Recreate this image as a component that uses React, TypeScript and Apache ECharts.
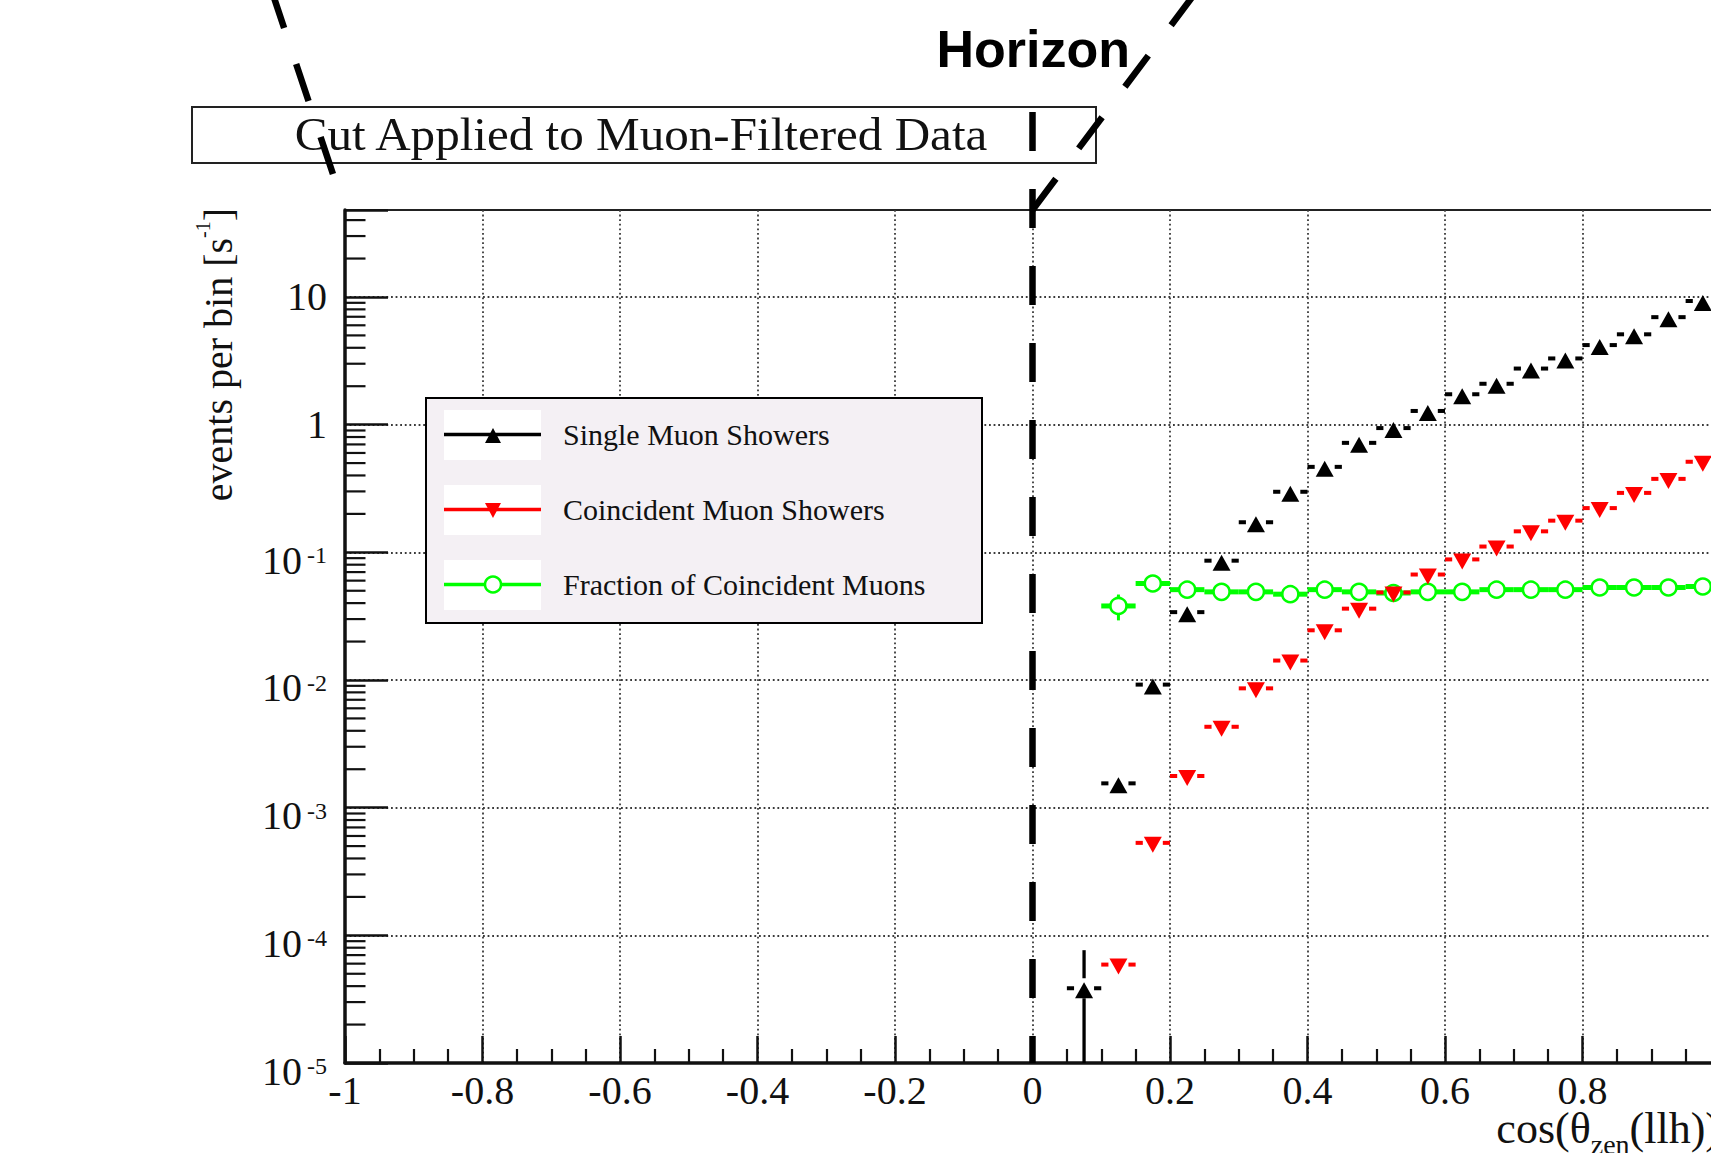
import React, { useEffect, useRef } from 'react';
import * as echarts from 'echarts';

// Bin layout of the zenith histogram (cos θ_zen, bin width 0.05)
const binWidth = 0.05;
const binCenters = [
  0.075, 0.125, 0.175, 0.225, 0.275, 0.325, 0.375, 0.425, 0.475, 0.525,
  0.575, 0.625, 0.675, 0.725, 0.775, 0.825, 0.875, 0.925, 0.975,
];

// Rates in events per bin [s^-1]
const singleMuonRate = [
  3.85e-5, 1.55e-3, 9.2e-3, 0.034, 0.086, 0.172, 0.298, 0.467, 0.72, 0.94,
  1.28, 1.73, 2.09, 2.75, 3.3, 4.2, 5.1, 6.95, 9.3,
];
const singleMuonErr = [
  3.8e-5, 0, 0, 0, 0, 0, 0, 0, 0, 0, 0, 0, 0, 0, 0, 0, 0, 0, 0,
];
const coincidentRate = [
  null, 5.9e-5, 5.3e-4, 1.77e-3, 4.3e-3, 8.6e-3, 0.0142, 0.0245, 0.0362, 0.0485,
  0.067, 0.088, 0.111, 0.146, 0.177, 0.222, 0.292, 0.376, 0.512,
];
const coincidentErr = [
  0, 0, 0, 0, 0, 0, 0, 0, 0, 0, 0, 0, 0, 0, 0, 0, 0, 0, 0,
];
const coincidentFraction = [
  null, 0.038, 0.057, 0.051, 0.049, 0.049, 0.047, 0.051, 0.049, 0.048,
  0.049, 0.049, 0.051, 0.051, 0.051, 0.053, 0.053, 0.053, 0.054,
];
const coincidentFractionErr = [
  0, 0.0087, 0, 0, 0, 0, 0, 0, 0, 0, 0, 0, 0, 0, 0, 0, 0, 0, 0,
];

const seriesNames = [
  'Single Muon Showers',
  'Coincident Muon Showers',
  'Fraction of Coincident Muons',
];
const plotTitle = 'Cut Applied to Muon-Filtered Data';
const horizonLabel = 'Horizon';
const yTitleMain = 'events per bin [s';
const yTitleSup = '-1';
const xTitleMain = 'cos(θ';
const xTitleSub = 'zen';
const xTitleTail = '(llh))';

// Axis ranges and tick layout
const xRange = [-1, 1];
const xStep = 0.2;
const yRange = [1e-5, 48];
const yMinorDecades = [1e-5, 1e-4, 1e-3, 1e-2, 1e-1, 1];
const yMinorMultipliers = [2, 3, 4, 5, 6, 7, 8, 9];
const yMinorTop = [20, 30, 40];

const SERIF = '"Liberation Serif", "Times New Roman", serif';
const SANS = '"Liberation Sans", Arial, sans-serif';
const INK = '#111';

function toPoints(ys: (number | null)[], errs?: number[]) {
  const out: number[][] = [];
  binCenters.forEach((x, i) => {
    const y = ys[i];
    if (y != null && y > 0) out.push([x, y, errs ? errs[i] : 0]);
  });
  return out;
}

// Horizontal bin-width bars (with a gap for the marker) and vertical error bars
function errorBars(color: string, gap: number, lw: number, vlw: number) {
  return (params: any, api: any) => {
    const x = api.value(0);
    const y = api.value(1);
    const e = api.value(2);
    const cs = params.coordSys;
    const c = api.coord([x, y]);
    const l = api.coord([x - binWidth / 2, y]);
    const r = api.coord([x + binWidth / 2, y]);
    const style = { stroke: color, lineWidth: lw, lineCap: 'butt' };
    const children: any[] = [];
    if (c[0] - gap > l[0]) {
      children.push({ type: 'line', shape: { x1: l[0], y1: c[1], x2: c[0] - gap, y2: c[1] }, style });
    }
    if (r[0] > c[0] + gap) {
      children.push({ type: 'line', shape: { x1: c[0] + gap, y1: c[1], x2: r[0], y2: c[1] }, style });
    }
    if (e > 0) {
      const bottomEdge = cs.y + cs.height;
      const top = api.coord([x, y + e])[1];
      const lo = y - e;
      const bottom = lo > 0 ? Math.min(api.coord([x, lo])[1], bottomEdge) : bottomEdge;
      const vstyle = { stroke: color, lineWidth: vlw, lineCap: 'butt' };
      if (c[1] - gap > top) {
        children.push({ type: 'line', shape: { x1: c[0], y1: top, x2: c[0], y2: c[1] - gap }, style: vstyle });
      }
      if (bottom > c[1] + gap) {
        children.push({ type: 'line', shape: { x1: c[0], y1: c[1] + gap, x2: c[0], y2: bottom }, style: vstyle });
      }
    }
    return { type: 'group', children };
  };
}

function yLabel(v: number) {
  const lg = Math.log10(v);
  const k = Math.round(lg);
  if (Math.abs(lg - k) > 1e-6) return '';
  if (k === 0) return '{n|1}';
  if (k === 1) return '{n|10}';
  return `{b|10}{s|${k}}`;
}

function buildOption(): any {
  const yMinorValues: number[] = [];
  yMinorDecades.forEach((d) => yMinorMultipliers.forEach((m) => yMinorValues.push(d * m)));
  yMinorTop.forEach((v) => yMinorValues.push(v));

  const gridLine = { color: '#3a3a3a', width: 1.8, type: [1.8, 2.8] };

  return {
    animation: false,
    backgroundColor: '#fff',
    textStyle: { fontFamily: SERIF },
    grid: {
      left: 345,
      top: 210,
      right: -9,
      bottom: 90,
      show: true,
      borderColor: '#222',
      borderWidth: 2,
      backgroundColor: 'transparent',
      outerBoundsMode: 'none',
      containLabel: false,
    },
    xAxis: {
      type: 'value',
      min: xRange[0],
      max: xRange[1],
      interval: xStep,
      axisLine: { show: true, onZero: false, lineStyle: { color: INK, width: 3.5 } },
      axisTick: { show: true, inside: true, length: 27, lineStyle: { color: INK, width: 2.5 } },
      minorTick: { show: true, splitNumber: 4, length: 14, lineStyle: { color: INK, width: 2.2 } },
      axisLabel: {
        show: true,
        margin: 7,
        color: INK,
        fontFamily: SERIF,
        fontSize: 40,
        showMaxLabel: false,
      },
      splitLine: { show: true, showMinLine: false, showMaxLine: false, lineStyle: gridLine },
    },
    yAxis: {
      type: 'log',
      logBase: 10,
      min: yRange[0],
      max: yRange[1],
      axisLine: { show: true, onZero: false, lineStyle: { color: INK, width: 3.5 } },
      axisTick: { show: true, inside: true, length: 43, lineStyle: { color: INK, width: 2.5 } },
      axisLabel: {
        show: true,
        margin: 18,
        color: INK,
        fontFamily: SERIF,
        fontSize: 40,
        formatter: yLabel,
        rich: {
          n: { fontFamily: SERIF, fontSize: 40, lineHeight: 40, color: INK },
          b: { fontFamily: SERIF, fontSize: 40, lineHeight: 40, color: INK, padding: [16, 0, 0, 0] },
          s: {
            fontFamily: SERIF,
            fontSize: 24,
            lineHeight: 24,
            color: INK,
            verticalAlign: 'top',
            padding: [11, 0, 0, 5],
          },
        },
      },
      splitLine: { show: true, showMinLine: false, showMaxLine: false, lineStyle: gridLine },
    },
    series: [
      {
        type: 'custom',
        name: 'yMinorTicks',
        silent: true,
        z: 6,
        data: yMinorValues.map((v) => [xRange[0], v]),
        encode: { x: 0, y: 1 },
        renderItem: (_p: any, api: any) => {
          const p = api.coord([api.value(0), api.value(1)]);
          return {
            type: 'line',
            shape: { x1: p[0], y1: p[1], x2: p[0] + 20.5, y2: p[1] },
            style: { stroke: INK, lineWidth: 2.2 },
          };
        },
      },
      {
        type: 'custom',
        name: seriesNames[0] + ' errors',
        silent: true,
        z: 3,
        data: toPoints(singleMuonRate, singleMuonErr),
        encode: { x: 0, y: 1 },
        renderItem: errorBars('#000', 10, 4, 3.3),
      },
      {
        type: 'scatter',
        name: seriesNames[0],
        silent: true,
        z: 4,
        data: toPoints(singleMuonRate).map((p) => [p[0], p[1]]),
        symbol: 'triangle',
        symbolSize: [18, 16],
        symbolOffset: [0, 2],
        itemStyle: { color: '#000', opacity: 1 },
      },
      {
        type: 'custom',
        name: seriesNames[2] + ' errors',
        silent: true,
        z: 3,
        data: toPoints(coincidentFraction, coincidentFractionErr),
        encode: { x: 0, y: 1 },
        renderItem: errorBars('#00ff00', 8, 5, 3),
      },
      {
        type: 'scatter',
        name: seriesNames[2],
        silent: true,
        z: 4,
        data: toPoints(coincidentFraction).map((p) => [p[0], p[1]]),
        symbol: 'circle',
        symbolSize: 16,
        itemStyle: { color: '#fff', borderColor: '#00ff00', borderWidth: 2.5, opacity: 1 },
      },
      {
        type: 'custom',
        name: seriesNames[1] + ' errors',
        silent: true,
        z: 3,
        data: toPoints(coincidentRate, coincidentErr),
        encode: { x: 0, y: 1 },
        renderItem: errorBars('#ff0000', 10, 4, 3.3),
      },
      {
        type: 'scatter',
        name: seriesNames[1],
        silent: true,
        z: 4,
        data: toPoints(coincidentRate).map((p) => [p[0], p[1]]),
        symbol: 'triangle',
        symbolRotate: 180,
        symbolSize: [18, 16],
        symbolOffset: [0, 2],
        itemStyle: { color: '#ff0000', opacity: 1 },
      },
    ],
  };
}

function legendGraphics(): any[] {
  const box = { x: 426, y: 398, w: 556, h: 225 };
  const rows = [434.5, 509.5, 584.5];
  const colors = ['#000', '#ff0000', '#00ff00'];
  const sx0 = 444;
  const sx1 = 541;
  const mx = 493;
  const tx = 563;
  const els: any[] = [
    {
      type: 'rect',
      shape: { x: box.x, y: box.y, width: box.w, height: box.h },
      style: { fill: '#f4f0f4', stroke: '#000', lineWidth: 2 },
    },
  ];
  rows.forEach((ry, i) => {
    els.push({
      type: 'rect',
      shape: { x: sx0, y: ry - 24.5, width: sx1 - sx0, height: 50 },
      style: { fill: '#fff' },
    });
    els.push({
      type: 'line',
      shape: { x1: sx0, y1: ry, x2: sx1, y2: ry },
      style: { stroke: colors[i], lineWidth: 3.4 },
    });
    if (i === 0) {
      els.push({
        type: 'polygon',
        shape: { points: [[mx, ry - 6.5], [mx + 8, ry + 8.5], [mx - 8, ry + 8.5]] },
        style: { fill: colors[i] },
      });
    } else if (i === 1) {
      els.push({
        type: 'polygon',
        shape: { points: [[mx - 8, ry - 6.5], [mx + 8, ry - 6.5], [mx, ry + 8.5]] },
        style: { fill: colors[i] },
      });
    } else {
      els.push({
        type: 'circle',
        shape: { cx: mx, cy: ry, r: 8 },
        style: { fill: '#fff', stroke: colors[i], lineWidth: 2.5 },
      });
    }
    els.push({
      type: 'text',
      x: tx,
      y: ry,
      style: {
        text: seriesNames[i],
        font: `30px ${SERIF}`,
        fill: INK,
        align: 'left',
        verticalAlign: 'middle',
      },
    });
  });
  return els;
}

function buildGraphics(x0: number, xL: number, xR: number, yT: number, yB: number): any[] {
  const dash = [39, 38];
  const dashStyle = { stroke: '#000', lineWidth: 6.5, lineDash: dash, lineCap: 'butt' };
  const els: any[] = [
    {
      type: 'rect',
      shape: { x: 192, y: 107, width: 904, height: 56 },
      style: { fill: '#fff', stroke: '#222', lineWidth: 2 },
    },
    {
      type: 'text',
      x: 641,
      y: 134,
      scaleX: 1.045,
      style: {
        text: plotTitle,
        font: `47px ${SERIF}`,
        fill: INK,
        align: 'center',
        verticalAlign: 'middle',
      },
    },
    {
      type: 'text',
      x: x0 - 96,
      y: 49,
      style: {
        text: horizonLabel,
        font: `bold 52px ${SANS}`,
        fill: '#000',
        align: 'left',
        verticalAlign: 'middle',
      },
    },
    // Horizon marker at cos θ = 0 and the two guide lines above the frame
    { type: 'line', shape: { x1: x0, y1: 112, x2: x0, y2: yB }, style: dashStyle },
    {
      type: 'line',
      shape: { x1: x0, y1: yT, x2: x0 + 0.6 * 330, y2: yT - 0.8 * 330 },
      style: dashStyle,
    },
    {
      type: 'line',
      shape: { x1: xL, y1: yT, x2: xL - 0.317 * 300, y2: yT - 0.948 * 300 },
      style: { ...dashStyle, lineDashOffset: 39 },
    },
    {
      type: 'text',
      x: 213,
      y: 208,
      rotation: Math.PI / 2,
      style: {
        text: `{b|${yTitleMain}}{s|${yTitleSup}}{b|]}`,
        fill: INK,
        align: 'right',
        verticalAlign: 'middle',
        rich: {
          b: { fontFamily: SERIF, fontSize: 40, lineHeight: 40, fill: INK, padding: [10, 0, 0, 0] },
          s: { fontFamily: SERIF, fontSize: 20, lineHeight: 20, fill: INK, verticalAlign: 'top' },
        },
      },
    },
    {
      type: 'text',
      x: xR,
      y: 1114,
      style: {
        text: `{b|${xTitleMain}}{s|${xTitleSub}}{b|${xTitleTail}}`,
        fill: INK,
        align: 'right',
        verticalAlign: 'top',
        rich: {
          b: { fontFamily: SERIF, fontSize: 44, lineHeight: 44, fill: INK, padding: [0, 0, 16, 0] },
          s: { fontFamily: SERIF, fontSize: 28, lineHeight: 28, fill: INK, verticalAlign: 'bottom' },
        },
      },
    },
    ...legendGraphics(),
  ];
  return els.map((e) => ({ ...e, z: 100 }));
}

export default function App() {
  const ref = useRef<HTMLDivElement>(null);
  useEffect(() => {
    const el = ref.current;
    if (!el) return;
    const chart = echarts.init(el, null, { renderer: 'svg' });
    chart.setOption(buildOption());
    const px = (v: number) => chart.convertToPixel({ xAxisIndex: 0 }, v) as number;
    const py = (v: number) => chart.convertToPixel({ yAxisIndex: 0 }, v) as number;
    chart.setOption({
      graphic: buildGraphics(px(0), px(xRange[0]), px(xRange[1]), py(yRange[1]), py(yRange[0])),
    });
    return () => chart.dispose();
  }, []);
  return (
    <div
      ref={ref}
      style={{ position: 'absolute', left: 0, top: 0, width: 1711, height: 1153, background: '#fff' }}
    />
  );
}
